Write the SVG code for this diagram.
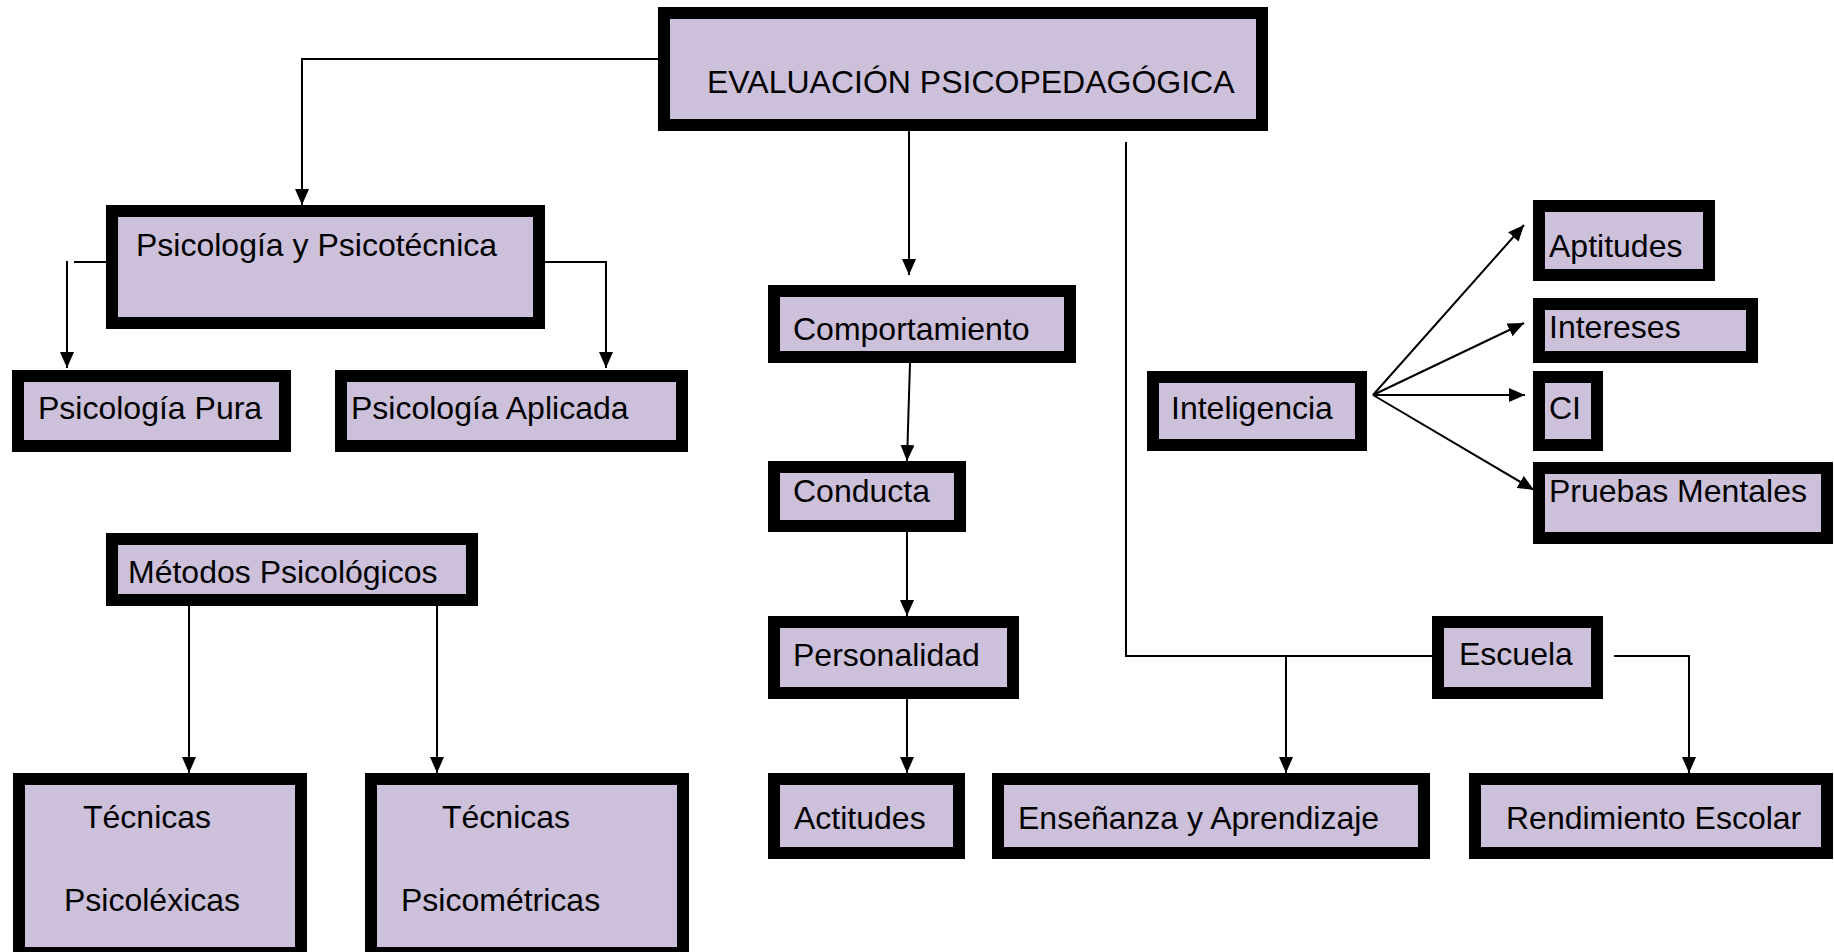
<svg xmlns="http://www.w3.org/2000/svg" width="1834" height="952" viewBox="0 0 1834 952">
<style>
.box{fill:#CCC0DA;stroke:#000;stroke-width:12}
.t{font-family:"Liberation Sans",Arial,sans-serif;font-size:32px;fill:#000}
.c{fill:none;stroke:#000;stroke-width:2}
</style>
<defs>
<marker id="ah" markerUnits="userSpaceOnUse" markerWidth="16" markerHeight="14" refX="16" refY="7" orient="auto">
<path d="M0,0 L16,7 L0,14 z" fill="#000"/>
</marker>
</defs>
<rect width="1834" height="952" fill="#fff"/>
<g id="connectors">
<polyline class="c" points="658,59 302,59 302,205" marker-end="url(#ah)"/>
<line class="c" x1="106" y1="262" x2="74" y2="262"/>
<line class="c" x1="67" y1="261" x2="67" y2="368" marker-end="url(#ah)"/>
<polyline class="c" points="545,262 606,262 606,368" marker-end="url(#ah)"/>
<line class="c" x1="189" y1="606" x2="189" y2="773" marker-end="url(#ah)"/>
<line class="c" x1="437" y1="606" x2="437" y2="773" marker-end="url(#ah)"/>
<line class="c" x1="909" y1="131" x2="909" y2="275" marker-end="url(#ah)"/>
<line class="c" x1="910" y1="363" x2="907" y2="461" marker-end="url(#ah)"/>
<line class="c" x1="907" y1="532" x2="907" y2="616" marker-end="url(#ah)"/>
<line class="c" x1="907" y1="699" x2="907" y2="773" marker-end="url(#ah)"/>
<polyline class="c" points="1126,142 1126,656 1432,656"/>
<line class="c" x1="1286" y1="656" x2="1286" y2="773" marker-end="url(#ah)"/>
<polyline class="c" points="1614,656 1689,656 1689,773" marker-end="url(#ah)"/>
<line class="c" x1="1373" y1="395" x2="1524" y2="225" marker-end="url(#ah)"/>
<line class="c" x1="1373" y1="395" x2="1524" y2="323" marker-end="url(#ah)"/>
<line class="c" x1="1373" y1="395" x2="1525" y2="395" marker-end="url(#ah)"/>
<line class="c" x1="1373" y1="395" x2="1534" y2="490" marker-end="url(#ah)"/>
</g>
<g id="n-evaluacion"><rect class="box" x="664" y="13" width="598" height="112"/><text class="t" x="707" y="93">EVALUACIÓN PSICOPEDAGÓGICA</text></g>
<g id="n-psicologia-psicotecnica"><rect class="box" x="112" y="211" width="427" height="112"/><text class="t" x="136" y="256">Psicología y Psicotécnica</text></g>
<g id="n-psicologia-pura"><rect class="box" x="18" y="376" width="267" height="70"/><text class="t" x="38" y="419">Psicología Pura</text></g>
<g id="n-psicologia-aplicada"><rect class="box" x="341" y="376" width="341" height="70"/><text class="t" x="351" y="419">Psicología Aplicada</text></g>
<g id="n-metodos"><rect class="box" x="112" y="539" width="360" height="61"/><text class="t" x="128" y="583">Métodos Psicológicos</text></g>
<g id="n-tecnicas-psicolexicas"><rect class="box" x="19" y="779" width="282" height="174"/><text class="t" x="83" y="828">Técnicas</text><text class="t" x="64" y="911">Psicoléxicas</text></g>
<g id="n-tecnicas-psicometricas"><rect class="box" x="371" y="779" width="312" height="174"/><text class="t" x="442" y="828">Técnicas</text><text class="t" x="401" y="911">Psicométricas</text></g>
<g id="n-comportamiento"><rect class="box" x="774" y="291" width="296" height="66"/><text class="t" x="793" y="340">Comportamiento</text></g>
<g id="n-conducta"><rect class="box" x="774" y="467" width="186" height="59"/><text class="t" x="793" y="502">Conducta</text></g>
<g id="n-personalidad"><rect class="box" x="774" y="622" width="239" height="71"/><text class="t" x="793" y="666">Personalidad</text></g>
<g id="n-actitudes"><rect class="box" x="774" y="779" width="185" height="74"/><text class="t" x="794" y="829">Actitudes</text></g>
<g id="n-ensenanza"><rect class="box" x="998" y="779" width="426" height="74"/><text class="t" x="1018" y="829">Enseñanza y Aprendizaje</text></g>
<g id="n-rendimiento"><rect class="box" x="1475" y="779" width="352" height="74"/><text class="t" x="1506" y="829">Rendimiento Escolar</text></g>
<g id="n-escuela"><rect class="box" x="1438" y="622" width="159" height="71"/><text class="t" x="1459" y="665">Escuela</text></g>
<g id="n-inteligencia"><rect class="box" x="1153" y="377" width="208" height="68"/><text class="t" x="1171" y="419">Inteligencia</text></g>
<g id="n-aptitudes"><rect class="box" x="1539" y="206" width="170" height="69"/><text class="t" x="1549" y="257">Aptitudes</text></g>
<g id="n-intereses"><rect class="box" x="1539" y="304" width="213" height="53"/><text class="t" x="1549" y="338">Intereses</text></g>
<g id="n-ci"><rect class="box" x="1539" y="377" width="58" height="68"/><text class="t" x="1549" y="419">CI</text></g>
<g id="n-pruebas"><rect class="box" x="1539" y="468" width="288" height="70"/><text class="t" x="1549" y="502">Pruebas Mentales</text></g>
</svg>
